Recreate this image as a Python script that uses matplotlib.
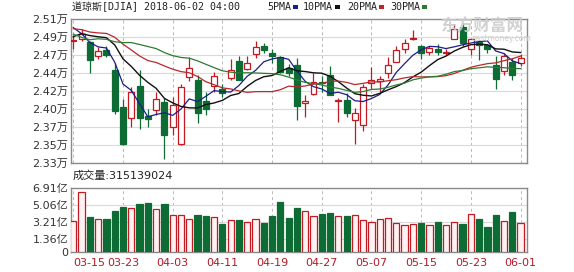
import numpy as np
import pandas as pd
import matplotlib
matplotlib.use("Agg")
import matplotlib.pyplot as plt
from matplotlib.patches import Rectangle

plt.rcParams['font.family'] = ['DejaVu Sans', 'Noto Sans CJK SC']

# ---- data -------------------------------------------------------------
dates = ["03-15", "03-16", "03-19", "03-20", "03-21", "03-22", "03-23",
         "03-26", "03-27", "03-28", "03-29", "04-02", "04-03", "04-04",
         "04-05", "04-06", "04-09", "04-10", "04-11", "04-12", "04-13",
         "04-16", "04-17", "04-18", "04-19", "04-20", "04-23", "04-24",
         "04-25", "04-26", "04-27", "04-30", "05-01", "05-02", "05-03",
         "05-04", "05-07", "05-08", "05-09", "05-10", "05-11", "05-14",
         "05-15", "05-16", "05-17", "05-18", "05-21", "05-22", "05-23",
         "05-24", "05-25", "05-29", "05-30", "05-31", "06-01"]

open_ = [24858, 24890, 24846, 24660, 24740, 24484, 24000, 23860, 24277, 23895,
         23963, 24066, 23742, 23531, 24389, 24359, 24080, 24273, 24240, 24385,
         24600, 24500, 24690, 24800, 24705, 24650, 24510, 24547, 24058, 24170,
         24322, 24421, 24085, 24090, 23831, 23769, 24321, 24340, 24450, 24591,
         24759, 24887, 24790, 24720, 24759, 24703, 24888, 25040, 24759, 24850,
         24803, 24548, 24470, 24587, 24570]
high = [24935, 25018, 24860, 24780, 24800, 24570, 24112, 24260, 24484, 23980,
        24200, 24117, 24130, 24307, 24648, 24420, 24200, 24460, 24300, 24620,
        24660, 24670, 24858, 24830, 24760, 24670, 24560, 24640, 24160, 24443,
        24400, 24531, 24117, 24185, 23996, 24304, 24516, 24412, 24658, 24790,
        24887, 24997, 24809, 24797, 24823, 24755, 25083, 25086, 24886, 24875,
        24818, 24668, 24703, 24634, 24690]
low = [24760, 24860, 24450, 24630, 24655, 23920, 23510, 23750, 23724, 23746,
       23900, 23337, 23639, 23520, 24345, 23796, 23900, 24200, 24140, 24350,
       24360, 24480, 24640, 24700, 24570, 24440, 24400, 23840, 23876, 24160,
       24200, 24160, 23809, 23876, 23531, 23700, 24242, 24198, 24382, 24591,
       24697, 24870, 24630, 24673, 24673, 24682, 24883, 24797, 24674, 24610,
       24700, 24242, 24420, 24350, 24540]
close = [24873, 24946, 24610, 24727, 24682, 23957, 23533, 24202, 23857, 23848,
         24103, 23644, 24033, 24264, 24505, 23933, 23979, 24408, 24189, 24483,
         24360, 24573, 24786, 24748, 24665, 24463, 24448, 24024, 24084, 24322,
         24311, 24163, 24100, 23925, 23930, 24263, 24357, 24361, 24542, 24740,
         24831, 24899, 24706, 24769, 24714, 24715, 25013, 24834, 24887, 24811,
         24753, 24362, 24668, 24416, 24635]

# closes of the 29 sessions before 03-15, needed for the moving averages
prior_close = [26187, 25521, 24346, 24913, 24893, 23860, 24191, 24601, 24640,
               24893, 25200, 25219, 24965, 24798, 24962, 25310, 25709, 25410,
               25029, 24609, 24538, 24875, 24884, 24801, 24895, 25336, 25179,
               25007, 24758]

# volume in 亿 shares
volume = [3.36, 6.43, 3.80, 3.58, 3.58, 4.45, 4.88, 4.73, 5.20, 5.30,
          4.66, 5.13, 4.00, 4.00, 3.58, 4.00, 3.90, 3.80, 3.07, 3.44,
          3.47, 3.29, 3.58, 3.18, 3.94, 5.35, 3.72, 4.80, 4.45, 3.90,
          4.05, 4.23, 3.90, 3.90, 4.00, 3.47, 3.25, 3.54, 3.65, 3.14,
          2.93, 3.00, 3.18, 2.93, 3.25, 2.93, 3.25, 3.04, 4.12, 3.58,
          2.71, 4.00, 3.36, 4.34, 3.15139024]

ma_periods = [5, 10, 20, 30]
ma_colors = ['#1c1c8a', '#111111', '#b8282c', '#2f7a32']
ma_names = ['5PMA', '10PMA', '20PMA', '30PMA']

vol_ticks = [0, 1.36, 3.21, 5.06, 6.91]
price_lo, price_hi = 23281, 25143

# ---- styling ----------------------------------------------------------
RED = '#c21a22'
GREEN = '#0d6b34'
GRID = '#d9d9d9'
VGRID = '#b8b8b8'
FRAME = '#8a8a8a'

W, H = 574, 272
fig = plt.figure(figsize=(W / 100, H / 100), dpi=100)
ax = fig.add_axes([71 / W, 1 - 163 / H, 456 / W, 144 / H])
axv = fig.add_axes([71 / W, 1 - 252 / H, 456 / W, 64 / H])

n = len(close)
x = np.arange(n)
o = np.array(open_, float)
h = np.array(high, float)
l = np.array(low, float)
c = np.array(close, float)
up = c >= o

# ---- candles ----------------------------------------------------------
body_w = 0.72
for i in range(n):
    top, bot = max(o[i], c[i]), min(o[i], c[i])
    col = RED if up[i] else GREEN
    ax.vlines(x[i], top, h[i], color=col, lw=0.9, zorder=3)
    ax.vlines(x[i], l[i], bot, color=col, lw=0.9, zorder=3)
    if top - bot < 8:
        ax.hlines((top + bot) / 2, x[i] - body_w / 2, x[i] + body_w / 2,
                  color=col, lw=1.6, zorder=4)
    else:
        ax.add_patch(Rectangle((x[i] - body_w / 2, bot), body_w, top - bot,
                               facecolor='white' if up[i] else GREEN,
                               edgecolor=col, lw=0.9, zorder=4))

# ---- moving averages --------------------------------------------------
full = pd.Series(prior_close + close, dtype=float)
for p, col in zip(ma_periods, ma_colors):
    ma = full.rolling(p).mean().to_numpy()[-n:]
    ax.plot(x, ma, color=col, lw=0.9 if p != 10 else 1.0, zorder=5)

xlim = (-0.28, n - 1 + 0.78)
ax.set_xlim(*xlim)
ax.set_ylim(price_lo, price_hi)
yt = np.linspace(price_lo, price_hi, 9)
ax.set_yticks(yt)
ax.set_yticklabels([f"{v / 1e4:.2f}万" for v in yt])
grid_x = x[::6]
ax.set_xticks(grid_x)
ax.set_xticklabels([])
ax.grid(axis='y', color=GRID, lw=0.8, ls='-')
ax.grid(axis='x', color=VGRID, lw=0.7, ls=(0, (3, 3)))
ax.set_axisbelow(True)

# ---- volume -----------------------------------------------------------
vol = np.array(volume)
axv.bar(x[up], vol[up], width=0.75, facecolor='#fff2f2', edgecolor=RED,
        lw=0.9, zorder=3)
axv.bar(x[~up], vol[~up], width=0.75, facecolor=GREEN, edgecolor=GREEN,
        lw=0.9, zorder=3)
axv.set_xlim(*xlim)
axv.set_ylim(0, vol_ticks[-1])
axv.set_yticks(vol_ticks)
axv.set_yticklabels(['0'] + [f"{v:.2f}亿" for v in vol_ticks[1:]])
axv.set_xticks(grid_x)
labels = axv.set_xticklabels([dates[i] for i in grid_x])
labels[0].set_horizontalalignment('left')
axv.grid(axis='y', color=GRID, lw=0.8, ls='-')
axv.grid(axis='x', color=VGRID, lw=0.7, ls=(0, (3, 3)))
axv.set_axisbelow(True)

for a in (ax, axv):
    for s in a.spines.values():
        s.set_color(FRAME)
        s.set_linewidth(1.0)
    a.tick_params(axis='both', length=0, labelsize=8)
    a.tick_params(axis='y', pad=2, labelcolor='#333333')
axv.tick_params(axis='x', pad=4, labelcolor='#b01c28', labelsize=8)

# ---- header texts -----------------------------------------------------
mono = ['DejaVu Sans Mono', 'Noto Sans CJK SC']
fig.text(72 / W, 1 - 7 / H, "道琼斯[DJIA] 2018-06-02 04:00", fontsize=7.2,
         family=mono, va='center', ha='left', color='#222222')
for name, col, px in zip(ma_names, ma_colors, [267, 303, 347, 390]):
    fig.text(px / W, 1 - 7 / H, name, fontsize=7.2, family=mono,
             va='center', ha='left', color='#222222')
    bx = px + 6.0 * len(name) + 2
    fig.patches.append(Rectangle((bx / W, 1 - 8.5 / H), 5 / W, 3.5 / H,
                                 transform=fig.transFigure, facecolor=col,
                                 edgecolor='none'))

fig.text(73 / W, 1 - 176 / H, "成交量:315139024", fontsize=8,
         va='center', ha='left', color='#222222')

# faint site logo in the upper-right corner of the price panel
fig.text(440 / W, 1 - 27 / H, "东方财富网", fontsize=12, fontweight='bold',
         family=['Noto Sans CJK SC'], color='#cccccc', va='center',
         ha='left', alpha=0.9, zorder=10)
fig.text(472 / W, 1 - 39 / H, "eastmoney.com", fontsize=5.5,
         color='#d0d0d0', va='center', ha='left', zorder=10)

fig.savefig("out.png", dpi=100)
